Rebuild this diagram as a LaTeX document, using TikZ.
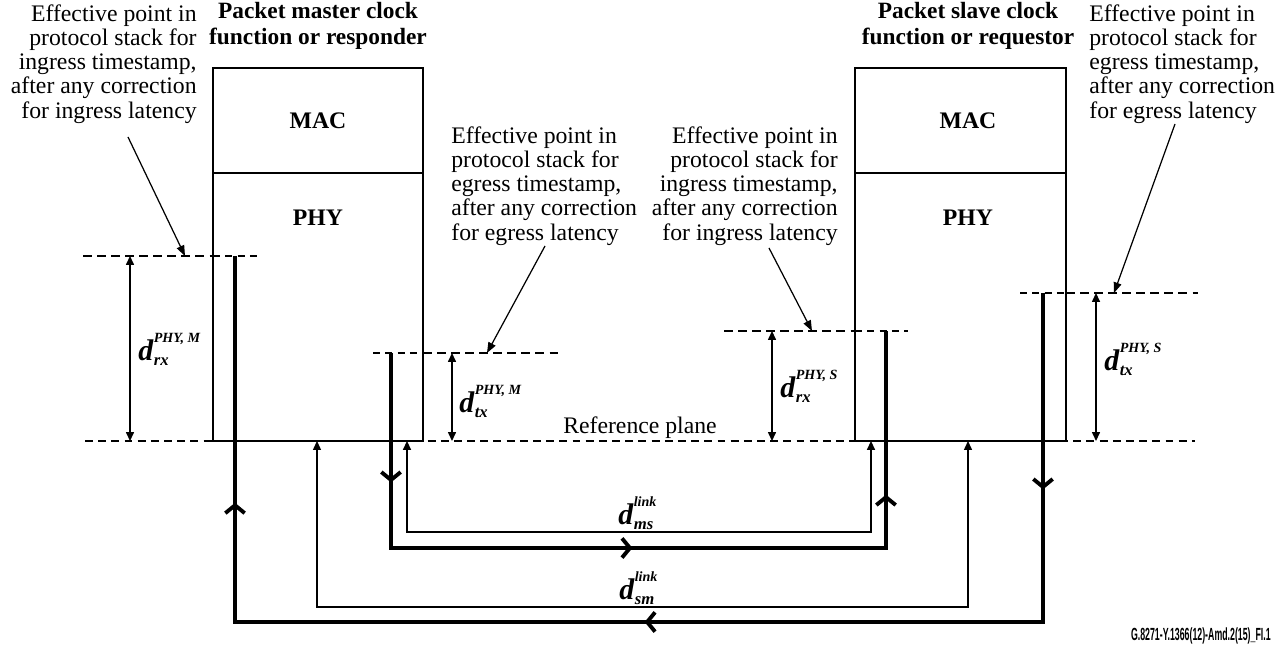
\documentclass[tikz,border=0pt]{standalone}
\usepackage{fontspec}
\setmainfont{Liberation Serif}
\newfontfamily\footfont{Liberation Sans}
\usetikzlibrary{arrows.meta,decorations.markings}
\newcommand{\dlab}[2]{%
{\fontsize{17}{17}\selectfont\bfseries\itshape d}%
\kern0.3pt%
\raisebox{-2.5pt}{\begin{tabular}[b]{@{}l@{}}\fontsize{8}{8}\selectfont\bfseries\itshape #1\\[1.2pt]\fontsize{9.5}{9.5}\selectfont\bfseries\itshape #2\end{tabular}}}
\tikzset{
  ann/.style={font=\fontsize{13.5}{13.8}\selectfont, inner sep=0pt},
  ttl/.style={font=\fontsize{13.3}{14.8}\selectfont\bfseries, inner sep=0pt, align=center},
  lay/.style={font=\fontsize{13.5}{14}\selectfont\bfseries, inner sep=0pt},
  stackbox/.style={draw, line width=1pt},
  thickdash/.style={line width=1.3pt, dash pattern=on 5pt off 3pt},
  thindash/.style={line width=0.6pt, dash pattern=on 4pt off 3pt},
  refplane/.style={line width=0.9pt, dash pattern=on 4.5pt off 3pt},
  flow/.style={line width=2pt},
  linkpath/.style={line width=0.9pt, {Triangle[length=5pt,width=4.5pt]}-{Triangle[length=5pt,width=4.5pt]}},
  thinlink/.style={line width=0.6pt, {Triangle[length=5pt,width=4.5pt]}-{Triangle[length=5pt,width=4.5pt]}},
  dimarrow/.style={line width=0.7pt, {Triangle[length=5pt,width=4.5pt]}-{Triangle[length=5pt,width=4.5pt]}},
  pointer/.style={line width=0.7pt, -{Triangle[length=6pt,width=4.5pt]}},
  chevat/.style={postaction={decorate,decoration={markings,
     mark=at position #1 with {\draw[line width=2.2pt, solid, line join=miter] (-4.5pt,-5.5pt) -- (0pt,0pt) -- (-4.5pt,5.5pt);}}}},
  dlabel/.style={anchor=base west, inner sep=0pt},
}
\begin{document}
\begin{tikzpicture}[x=0.02cm,y=-0.02cm]
\useasboundingbox (0,0) rectangle (1279,648);

% reference plane
\coordinate (rpl) at (85,441);
\coordinate (rpr) at (1195,441);
\draw[refplane] (rpl) -- (rpr);
\node[font=\fontsize{13.5}{14}\selectfont, anchor=base, inner sep=0pt] (refl) at (640,434) {Reference plane};

% stacks
\draw[stackbox, fill=white] (213,68) rectangle (423,441);
\draw[stackbox] (213,173) -- (423,173);
\draw[stackbox, fill=white] (855,68) rectangle (1066,441);
\draw[stackbox] (855,173) -- (1066,173);
\node[lay] (mmac) at (318,121) {MAC};
\node[lay] (mphy) at (318,218) {PHY};
\node[lay] (smac) at (968,121) {MAC};
\node[lay] (sphy) at (968,218) {PHY};

% titles
\node[ttl, anchor=north] (mt) at (318,2) {Packet master clock\\function or responder};
\node[ttl, anchor=north] (st) at (968,2) {Packet slave clock\\function or requestor};

% timestamp levels
\coordinate (mrx) at (235,256);
\coordinate (mtx) at (391,353);
\coordinate (srx) at (886,331);
\coordinate (stx) at (1043,293);
\draw[thickdash] (83,256) -- (213,256);
\draw[thindash] (213,256) -- (258,256);
\draw[thindash] (373,353) -- (423,353);
\draw[thickdash] (423,353) -- (562,353);
\draw[thickdash] (724,331) -- (855,331);
\draw[thindash] (855,331) -- (908,331);
\draw[thindash] (1020,293) -- (1066,293);
\draw[thickdash] (1066,293) -- (1198,293);

% annotations
\node[ann, align=right, anchor=north east] (a1) at (197,4) {Effective point in\\protocol stack for\\ingress timestamp,\\after any correction\\for ingress latency};
\node[ann, align=left, anchor=north west] (a2) at (451,126) {Effective point in\\protocol stack for\\egress timestamp,\\after any correction\\for egress latency};
\node[ann, align=right, anchor=north east] (a3) at (838,126) {Effective point in\\protocol stack for\\ingress timestamp,\\after any correction\\for ingress latency};
\node[ann, align=left, anchor=north west] (a4) at (1089,4) {Effective point in\\protocol stack for\\egress timestamp,\\after any correction\\for egress latency};
\coordinate (p1s) at (128,137);
\coordinate (p1e) at (185,256);
\coordinate (p2s) at (545,246);
\coordinate (p2e) at (487,353);
\coordinate (p3s) at (769,248);
\coordinate (p3e) at (812,331);
\coordinate (p4s) at (1175,124);
\coordinate (p4e) at (1114,293);
\draw[pointer] (p1s) -- (p1e);
\draw[pointer] (p2s) -- (p2e);
\draw[pointer] (p3s) -- (p3e);
\draw[pointer] (p4s) -- (p4e);

% dimension arrows
\coordinate (d1t) at (130,256); \coordinate (d1b) at (130,441);
\coordinate (d2t) at (452,353); \coordinate (d2b) at (452,441);
\coordinate (d3t) at (772,331); \coordinate (d3b) at (772,441);
\coordinate (d4t) at (1096,293); \coordinate (d4b) at (1096,441);
\draw[dimarrow] (d1t) -- (d1b);
\draw[dimarrow] (d2t) -- (d2b);
\draw[dimarrow] (d3t) -- (d3b);
\draw[dimarrow] (d4t) -- (d4b);
\node[dlabel] (l1) at (138,361) {\dlab{PHY, M}{rx}};
\node[dlabel] (l2) at (459,413) {\dlab{PHY, M}{tx}};
\node[dlabel] (l3) at (780,398) {\dlab{PHY, S}{rx}};
\node[dlabel] (l4) at (1104,371) {\dlab{PHY, S}{tx}};

% link paths
\coordinate (mref1) at (407,441);
\coordinate (sref1) at (871,441);
\coordinate (mref2) at (317,441);
\coordinate (sref2) at (968,441);
\draw[linkpath] (mref1) -- ++(0,91) -| (sref1);
\draw[thinlink] (sref2) -- ++(0,166) -| (mref2);
\node[dlabel] (lms) at (618,525) {\dlab{link}{ms}};
\node[dlabel] (lsm) at (619,600) {\dlab{link}{sm}};

% packet flows
\draw[flow, chevat=2.54cm, chevat=8.68cm, chevat=14.82cm] (mtx) -- ++(0,195) -| (srx);
\draw[flow, chevat=3.88cm, chevat=14.5cm, chevat=25.08cm] (stx) -- ++(0,329) -| (mrx);

% footer
\node[font=\footfont\bfseries\fontsize{10}{10}\selectfont, anchor=base east, inner sep=0pt] (foot) at (1271,641) {\scalebox{0.5}[1]{G.8271-Y.1366(12)-Amd.2(15)\_FI.1}};
\end{tikzpicture}
\end{document}
